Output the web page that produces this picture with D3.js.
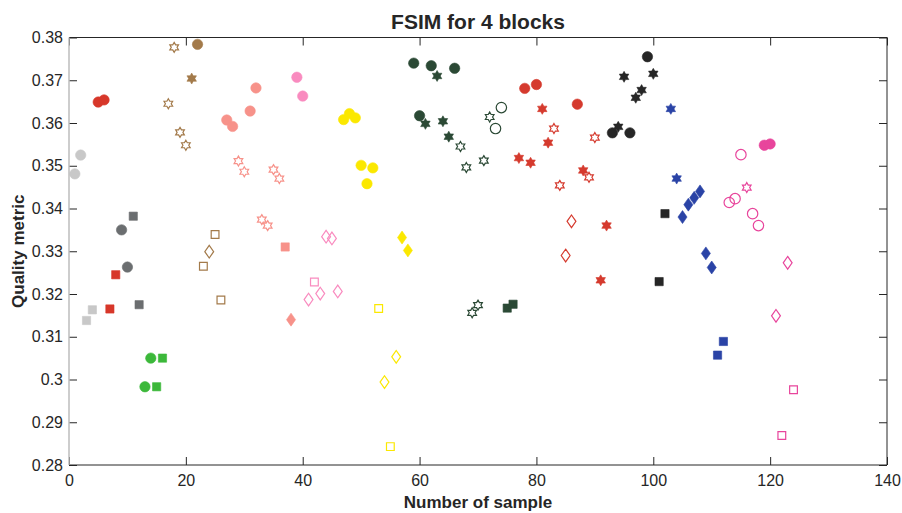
<!DOCTYPE html>
<html>
<head>
<meta charset="utf-8">
<script src="https://cdn.jsdelivr.net/npm/d3@7"></script>
<style>
  body { margin: 0; background: #ffffff; }
  text { font-family: "Liberation Sans", Arial, sans-serif; fill: #262626; }
</style>
</head>
<body>
<script>
// chart data
var samples = [
  1, 2, 3, 4, 5, 6, 7, 8, 9, 10, 11, 12, 13, 14, 15, 16, 17, 18, 19, 20,
  21, 22, 23, 24, 25, 26, 27, 28, 29, 30, 31, 32, 33, 34, 35, 36, 37, 38, 39, 40,
  41, 42, 43, 44, 45, 46, 47, 48, 49, 50, 51, 52, 53, 54, 55, 56, 57, 58, 59, 60,
  61, 62, 63, 64, 65, 66, 67, 68, 69, 70, 71, 72, 73, 74, 75, 76, 77, 78, 79, 80,
  81, 82, 83, 84, 85, 86, 87, 88, 89, 90, 91, 92, 93, 94, 95, 96, 97, 98, 99, 100,
  101, 102, 103, 104, 105, 106, 107, 108, 109, 110, 111, 112, 113, 114, 115, 116, 117, 118, 119, 120,
  121, 122, 123, 124
];

var quality = [
  0.3481, 0.3525, 0.3138, 0.3163,
  0.3649, 0.3654, 0.3165, 0.3245,
  0.3350, 0.3263, 0.3382, 0.3175,
  0.2983, 0.3050, 0.2983, 0.3050,
  0.3645, 0.3777, 0.3578, 0.3548, 0.3704, 0.3784, 0.3265, 0.3299, 0.3339, 0.3186,
  0.3607, 0.3592, 0.3511, 0.3486, 0.3628, 0.3682, 0.3374, 0.3360, 0.3491, 0.3470, 0.3310, 0.3140,
  0.3707, 0.3663, 0.3187, 0.3228, 0.3201, 0.3334, 0.3330, 0.3206,
  0.3608, 0.3622, 0.3612, 0.3501, 0.3458, 0.3495, 0.3166, 0.2994, 0.2843, 0.3053, 0.3332, 0.3302,
  0.3740, 0.3617, 0.3598, 0.3734, 0.3710, 0.3604, 0.3568, 0.3728, 0.3545, 0.3496, 0.3156, 0.3174,
  0.3512, 0.3614, 0.3587, 0.3636, 0.3167, 0.3176,
  0.3518, 0.3681, 0.3507, 0.3690, 0.3633, 0.3554, 0.3587, 0.3454, 0.3290, 0.3370, 0.3644, 0.3489,
  0.3473, 0.3566, 0.3232, 0.3360,
  0.3577, 0.3591, 0.3708, 0.3577, 0.3659, 0.3677, 0.3755, 0.3715, 0.3229, 0.3388,
  0.3633, 0.3470, 0.3380, 0.3409, 0.3425, 0.3440, 0.3295, 0.3262, 0.3057, 0.3089,
  0.3414, 0.3423, 0.3526, 0.3449, 0.3388, 0.3360, 0.3548, 0.3551, 0.3149, 0.2869, 0.3273, 0.2976
];

// colour group of every sample
var groups = [
  "A", "A", "A", "A",
  "B", "B", "B", "B",
  "C", "C", "C", "C",
  "D", "D", "D", "D",
  "E", "E", "E", "E", "E", "E", "E", "E", "E", "E",
  "F", "F", "F", "F", "F", "F", "F", "F", "F", "F", "F", "F",
  "G", "G", "G", "G", "G", "G", "G", "G",
  "H", "H", "H", "H", "H", "H", "H", "H", "H", "H", "H", "H",
  "I", "I", "I", "I", "I", "I", "I", "I", "I", "I", "I", "I", "I", "I", "I", "I", "I", "I",
  "J", "J", "J", "J", "J", "J", "J", "J", "J", "J", "J", "J", "J", "J", "J", "J",
  "K", "K", "K", "K", "K", "K", "K", "K", "K", "K",
  "L", "L", "L", "L", "L", "L", "L", "L", "L", "L",
  "M", "M", "M", "M", "M", "M", "M", "M", "M", "M", "M", "M"
];

// marker of every sample: c circle, h hexagram, s square, d diamond (upper case = open)
var markers = [
  "c", "c", "s", "s",
  "c", "c", "s", "s",
  "c", "c", "s", "s",
  "c", "c", "s", "s",
  "H", "H", "H", "H", "h", "c", "S", "D", "S", "S",
  "c", "c", "H", "H", "c", "c", "H", "H", "H", "H", "s", "d",
  "c", "c", "D", "S", "D", "D", "D", "D",
  "c", "c", "c", "c", "c", "c", "S", "D", "S", "D", "d", "d",
  "c", "c", "h", "c", "h", "h", "h", "c", "H", "H", "H", "H", "H", "H", "C", "C", "s", "s",
  "h", "c", "h", "c", "h", "h", "H", "H", "D", "D", "c", "h", "H", "H", "h", "h",
  "c", "h", "h", "c", "h", "h", "c", "h", "s", "s",
  "h", "h", "d", "d", "d", "d", "d", "d", "s", "s",
  "C", "C", "C", "H", "C", "C", "c", "c", "D", "S", "D", "S"
];

var xTicks = [0, 20, 40, 60, 80, 100, 120, 140];
var yTicks = [0.28, 0.29, 0.3, 0.31, 0.32, 0.33, 0.34, 0.35, 0.36, 0.37, 0.38];

// svg variables
var width = 902;
var height = 513;
var margin = {top: 37.5, right: 15, bottom: 48, left: 69};

var palette = ["#c8c8c8", "#d7372a", "#6b6e70", "#3cb83a", "#a37a4a", "#f7928a",
               "#f98bbf", "#fbe800", "#2b4935", "#d53a2e", "#262626", "#2a43a6", "#e8459c"];

var svg = d3.select("body")
  .append("svg")
  .attr("width", width)
  .attr("height", height);

var xScale = d3.scaleLinear()
  .domain([0, 140])
  .range([margin.left, width - margin.right]);
var yScale = d3.scaleLinear()
  .domain([0.28, 0.38])
  .range([height - margin.bottom, margin.top]);
var colour = d3.scaleOrdinal()
  .domain(["A", "B", "C", "D", "E", "F", "G", "H", "I", "J", "K", "L", "M"])
  .range(palette);

// custom marker shapes, size is the outer radius squared
var hexagram = {
  draw: function(ctx, size) {
    var r = Math.sqrt(size);
    var ri = r / Math.sqrt(3);
    for (var k = 0; k < 12; k++) {
      var a = -Math.PI / 2 + k * Math.PI / 6;
      var rr = k % 2 === 0 ? r : ri;
      if (k === 0) ctx.moveTo(rr * Math.cos(a), rr * Math.sin(a));
      else ctx.lineTo(rr * Math.cos(a), rr * Math.sin(a));
    }
    ctx.closePath();
  }
};
var diamond = {
  draw: function(ctx, size) {
    var r = Math.sqrt(size);
    var w = r * 0.7;
    ctx.moveTo(0, -r);
    ctx.lineTo(w, 0);
    ctx.lineTo(0, r);
    ctx.lineTo(-w, 0);
    ctx.closePath();
  }
};
var square = {
  draw: function(ctx, size) {
    var r = Math.sqrt(size);
    ctx.rect(-r, -r, 2 * r, 2 * r);
  }
};

function shapeOf(m) {
  var k = m.toLowerCase();
  if (k === "c") return d3.symbol().type(d3.symbolCircle).size(Math.PI * 27)();
  if (k === "h") return d3.symbol().type(hexagram).size(m === "h" ? 30 : 25)();
  if (k === "s") return d3.symbol().type(square).size(m === "s" ? 17 : 15)();
  return d3.symbol().type(diamond).size(m === "d" ? 42 : 40)();
}

var points = samples.map(function(s, i) {
  return {x: s, y: quality[i], group: groups[i], marker: markers[i]};
});

// markers
var plot = svg.append("g");

plot.selectAll("path.marker")
  .data(points)
  .enter()
  .append("path")
  .attr("class", "marker")
  .attr("transform", function(d) {
    return "translate(" + [xScale(d.x), yScale(d.y)] + ")";
  })
  .attr("d", function(d) { return shapeOf(d.marker); })
  .attr("fill", function(d) {
    return d.marker === d.marker.toLowerCase() ? colour(d.group) : "none";
  })
  .attr("stroke", function(d) { return colour(d.group); })
  .attr("stroke-width", function(d) {
    return d.marker === d.marker.toLowerCase() ? 0.6 : 1.2;
  });

// axes with inward ticks, box on
var xAxis = d3.axisBottom(xScale).tickValues(xTicks).tickSizeInner(-8).tickSizeOuter(0)
  .tickPadding(10).tickFormat(d3.format("d"));
var yAxis = d3.axisLeft(yScale).tickValues(yTicks).tickSizeInner(-8).tickSizeOuter(0)
  .tickPadding(13).tickFormat(function(d) { return d3.format(".2~f")(d); });

var gx = svg.append("g")
  .attr("transform", "translate(" + [0, height - margin.bottom] + ")")
  .call(xAxis);
var gy = svg.append("g")
  .attr("transform", "translate(" + [margin.left, 0] + ")")
  .call(yAxis);

// top and right ticks
svg.append("g")
  .attr("transform", "translate(" + [0, margin.top] + ")")
  .call(d3.axisTop(xScale).tickValues(xTicks).tickSizeInner(-8).tickSizeOuter(0).tickFormat(""));
svg.append("g")
  .attr("transform", "translate(" + [width - margin.right, 0] + ")")
  .call(d3.axisRight(yScale).tickValues(yTicks).tickSizeInner(-8).tickSizeOuter(0).tickFormat(""));

svg.selectAll(".domain").remove();
svg.selectAll(".tick line").attr("stroke", "#262626").attr("stroke-width", 1);
svg.selectAll(".tick text")
  .style("font-size", "15px")
  .style("fill", "#262626");
gy.selectAll(".tick text").attr("dx", "7px").style("font-size", "16px");
gx.selectAll(".tick text").style("font-size", "16px");

// box lines
var x0 = margin.left, x1 = width - margin.right;
var y0 = margin.top, y1 = height - margin.bottom;
svg.append("line").attr("x1", x0).attr("x2", x1).attr("y1", y0).attr("y2", y0)
  .attr("stroke", "#262626");
svg.append("line").attr("x1", x0).attr("x2", x1).attr("y1", y1).attr("y2", y1)
  .attr("stroke", "#262626");
svg.append("line").attr("x1", x1).attr("x2", x1).attr("y1", y0).attr("y2", y1)
  .attr("stroke", "#262626");
svg.append("line").attr("x1", x0).attr("x2", x0).attr("y1", y0).attr("y2", y1)
  .attr("stroke", "#bdbdbd").attr("stroke-width", 1.5);

// title
svg.append("text")
  .attr("x", (x0 + x1) / 2)
  .attr("y", 29)
  .attr("text-anchor", "middle")
  .style("font-size", "21px")
  .style("font-weight", "bold")
  .text("FSIM for 4 blocks");

// x label
svg.append("text")
  .attr("x", (x0 + x1) / 2)
  .attr("y", 508)
  .attr("text-anchor", "middle")
  .style("font-size", "17px")
  .style("font-weight", "bold")
  .text("Number of sample");

// y label
svg.append("text")
  .attr("transform", "rotate(-90)")
  .attr("x", -(y0 + y1) / 2)
  .attr("y", 24)
  .attr("text-anchor", "middle")
  .style("font-size", "17px")
  .style("font-weight", "bold")
  .text("Quality metric");
</script>
</body>
</html>
